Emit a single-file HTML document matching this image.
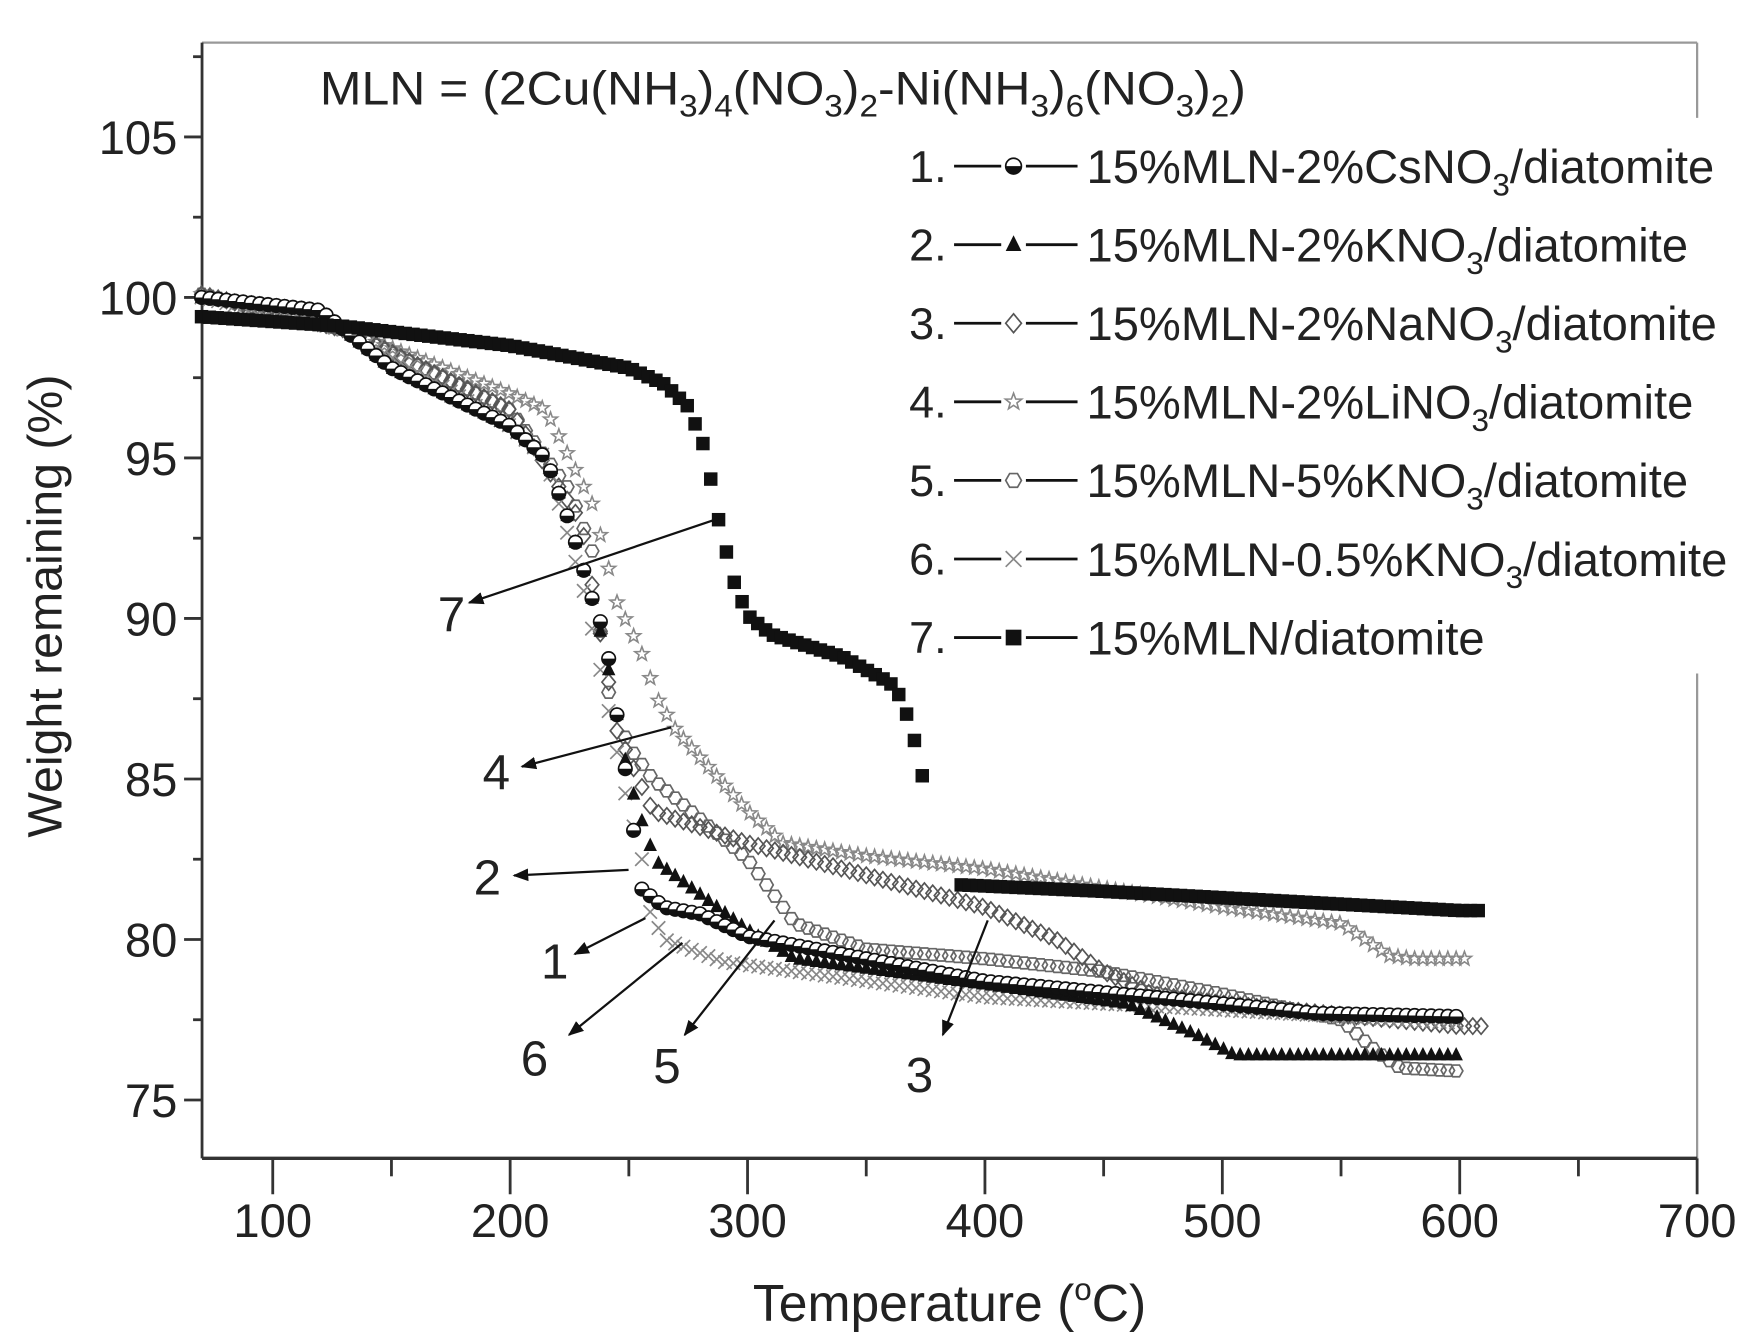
<!DOCTYPE html>
<html><head><meta charset="utf-8"><style>
html,body{margin:0;padding:0;background:#fff;}
svg{display:block;}
text{font-family:"Liberation Sans",sans-serif;fill:#222;}
</style></head><body>
<svg id="s" width="1751" height="1344" viewBox="0 0 1560 1197.4" preserveAspectRatio="none" xmlns="http://www.w3.org/2000/svg">
<defs>
<marker id="ah" viewBox="0 0 10 10" refX="9" refY="5" markerWidth="7" markerHeight="7" orient="auto"><path d="M0,1 L10,5 L0,9 z" fill="#111"/></marker>
</defs>
<line x1="180" y1="38" x2="1512" y2="38" stroke="#999" stroke-width="2"/>
<line x1="1512" y1="38" x2="1512" y2="105" stroke="#999" stroke-width="2"/>
<line x1="1512" y1="600" x2="1512" y2="1032" stroke="#999" stroke-width="2"/>
<line x1="180" y1="38" x2="180" y2="1032" stroke="#333" stroke-width="2.5"/>
<line x1="180" y1="1032" x2="1512" y2="1032" stroke="#333" stroke-width="3"/>
<g id="ticks" stroke="#333" stroke-width="2.5"></g>
<g id="data"></g>
<text x="285" y="93" font-size="42" textLength="825" lengthAdjust="spacingAndGlyphs">MLN = (2Cu(NH<tspan font-size="28" dy="11">3</tspan><tspan dy="-11">)</tspan><tspan font-size="28" dy="11">4</tspan><tspan dy="-11">(NO</tspan><tspan font-size="28" dy="11">3</tspan><tspan dy="-11">)</tspan><tspan font-size="28" dy="11">2</tspan><tspan dy="-11">-Ni(NH</tspan><tspan font-size="28" dy="11">3</tspan><tspan dy="-11">)</tspan><tspan font-size="28" dy="11">6</tspan><tspan dy="-11">(NO</tspan><tspan font-size="28" dy="11">3</tspan><tspan dy="-11">)</tspan><tspan font-size="28" dy="11">2</tspan><tspan dy="-11">)</tspan></text>
<g id="leg"></g>
<text x="40" y="540" font-size="43" transform="rotate(-90 40 540)" text-anchor="middle" dy="15">Weight remaining (%)</text>
<text x="846" y="1177" font-size="46" text-anchor="middle">Temperature (<tspan font-size="28" dy="-19">o</tspan><tspan dy="19">C)</tspan></text>
<g id="ann" stroke="#111" stroke-width="2" fill="none"></g>
</svg>
<script>
const NS="http://www.w3.org/2000/svg";
const X=T=>243+(T-100)*2.115, Y=v=>265+(100-v)*28.6;
function el(p,tag,a,txt){const e=document.createElementNS(NS,tag);for(const k in a)e.setAttribute(k,a[k]);if(txt!=null)e.textContent=txt;p.appendChild(e);return e;}
const tk=document.getElementById('ticks');const sv=document.getElementById('s');
for(let T=100;T<=700;T+=50){const maj=T%100==0;el(tk,'line',{x1:X(T),y1:1032,x2:X(T),y2:1032+(maj?32:16)});
 if(maj)el(sv,'text',{x:X(T),y:1102,'font-size':42,'text-anchor':'middle'},T);}
for(let v=75;v<=107.5;v+=2.5){const maj=v%5==0;el(tk,'line',{x1:180,y1:Y(v),x2:180-(maj?16:8),y2:Y(v)});
 if(maj)el(sv,'text',{x:158,y:Y(v)+15,'font-size':42,'text-anchor':'end'},v);}
function interp(pts,T){for(let i=0;i<pts.length-1;i++){if(T>=pts[i][0]&&T<=pts[i+1][0]){const [a,b]=[pts[i],pts[i+1]];return a[1]+(b[1]-a[1])*(T-a[0])/(b[0]-a[0]);}}return null;}
function mk(g,type,x,y,s){
 const c='#111',gr='#888';
 switch(type){
 case 'sq':el(g,'rect',{x:x-s,y:y-s,width:2*s,height:2*s,fill:c});break;
 case 'hc':el(g,'circle',{cx:x,cy:y,r:s,fill:'#fff',stroke:c,'stroke-width':1.5});el(g,'path',{d:`M${x-s},${y} A${s},${s} 0 0 0 ${x+s},${y} Z`,fill:c});break;
 case 'tri':el(g,'path',{d:`M${x},${y-s*1.2} L${x+s},${y+s*0.8} L${x-s},${y+s*0.8}Z`,fill:c});break;
 case 'dia':el(g,'path',{d:`M${x},${y-s*1.2} L${x+s},${y} L${x},${y+s*1.2} L${x-s},${y}Z`,fill:'none',stroke:'#555','stroke-width':1.5});break;
 case 'star':{let d='';for(let i=0;i<10;i++){const r=i%2?s*0.45:s*1.1,a=-Math.PI/2+i*Math.PI/5;d+=(i?'L':'M')+(x+r*Math.cos(a)).toFixed(1)+','+(y+r*Math.sin(a)).toFixed(1);}el(g,'path',{d:d+'Z',fill:'none',stroke:gr,'stroke-width':1.4});break;}
 case 'hex':{let d='';for(let i=0;i<6;i++){const a=i*Math.PI/3;d+=(i?'L':'M')+(x+s*Math.cos(a)).toFixed(1)+','+(y+s*Math.sin(a)).toFixed(1);}el(g,'path',{d:d+'Z',fill:'none',stroke:'#666','stroke-width':1.5});break;}
 case 'x':el(g,'path',{d:`M${x-s},${y-s}L${x+s},${y+s}M${x-s},${y+s}L${x+s},${y-s}`,stroke:gr,'stroke-width':1.5});break;
 }}
const series=[
 ['star',[[70,100.1],[130,99],[200,97],[215,96.5],[225,95],[235,93.5],[245,90.5],[255,89],[262,87.5],[270,86.5],[300,84],[315,83],[350,82.6],[400,82.2],[500,81],[550,80.5],[570,79.5],[580,79.4],[605,79.4]]],
 ['hex',[[70,100.1],[130,99],[200,96.5],[225,94],[235,92],[240,88],[250,86],[260,85],[300,82.5],[320,80.5],[350,79.7],[400,79.4],[450,79],[500,78.3],[550,77.5],[565,76.5],[575,76],[600,75.9]]],
 ['dia',[[70,100.1],[130,99],[200,96.5],[230,93],[245,86.5],[260,84],[300,83],[350,82],[400,81],[430,80],[450,79],[470,78.3],[500,78],[600,77.3],[610,77.3]]],
 ['x',[[70,100],[130,99],[200,96],[215,95],[232,90.6],[250,84],[255,82.8],[258,81],[265,80],[290,79.3],[400,78.2],[500,77.8],[600,77.4]]],
 ['tri',[[70,100],[120,99.6],[130,99],[150,97.8],[200,96],[215,95],[225,93],[235,90.5],[240,89],[250,85],[258,83.1],[262,82.4],[300,80.3],[320,79.4],[400,78.6],[460,78],[490,77],[505,76.4],[600,76.4]]],
 ['hc',[[70,100],[120,99.6],[130,99],[150,97.8],[200,96],[215,95],[225,93],[235,90.5],[240,89.5],[245,87],[250,84.6],[255,81.6],[265,81],[280,80.8],[300,80.1],[400,78.7],[500,78],[540,77.7],[600,77.6]]],
 ['sq',[[70,99.4],[130,99.1],[200,98.5],[250,97.8],[265,97.3],[275,96.6],[282,95.3],[288,93],[294,91.2],[300,90.1],[310,89.5],[340,88.8],[360,88],[365,87.5],[370,86.3],[376,84.3]],[[390,81.7],[450,81.5],[600,80.9],[608,80.9]]]
];
const dg=document.getElementById('data');
for(const s of series){const segs=s.slice(1);for(const pts of segs){const t0=pts[0][0],t1=pts[pts.length-1][0];
 const step=s[0]=='sq'?3.3:3.5;
 for(let T=t0;T<=t1;T+=step){const v=interp(pts,T);if(v==null)continue;mk(dg,s[0],X(T),Y(v),6);}}}
const lg=document.getElementById('leg');
const labs=[['hc','1.','15%MLN-2%CsNO','3','/diatomite'],['tri','2.','15%MLN-2%KNO','3','/diatomite'],['dia','3.','15%MLN-2%NaNO','3','/diatomite'],['star','4.','15%MLN-2%LiNO','3','/diatomite'],['hex','5.','15%MLN-5%KNO','3','/diatomite'],['x','6.','15%MLN-0.5%KNO','3','/diatomite'],['sq','7.','15%MLN/diatomite','','']];
labs.forEach((l,i)=>{const y=148+i*70;
 el(lg,'text',{x:810,y:y+14,'font-size':40},l[1]);
 el(lg,'line',{x1:850,y1:y,x2:960,y2:y,stroke:'#111','stroke-width':2.5});
 el(lg,'rect',{x:892,y:y-9,width:22,height:18,fill:'#fff'});
 mk(lg,l[0],903,y,7);
 const t=el(lg,'text',{x:968,y:y+15,'font-size':42});t.textContent=l[2];
 if(l[3]){el(t,'tspan',{'font-size':28,dy:11},l[3]);el(t,'tspan',{dy:-11},l[4]);}
});
const an=document.getElementById('ann');
[[640,462,418,537,'7',390,562],[598,648,465,683,'4',430,703],[560,775,458,780,'2',422,797],[575,818,512,850,'1',482,872],[608,840,507,922,'6',464,958],[690,820,610,922,'5',582,965],[880,820,840,922,'3',807,973]].forEach(a=>{
 el(an,'line',{x1:a[0],y1:a[1],x2:a[2],y2:a[3],'marker-end':'url(#ah)'});
 el(sv,'text',{x:a[5],y:a[6],'font-size':44},a[4]);});
</script>
</body></html>
